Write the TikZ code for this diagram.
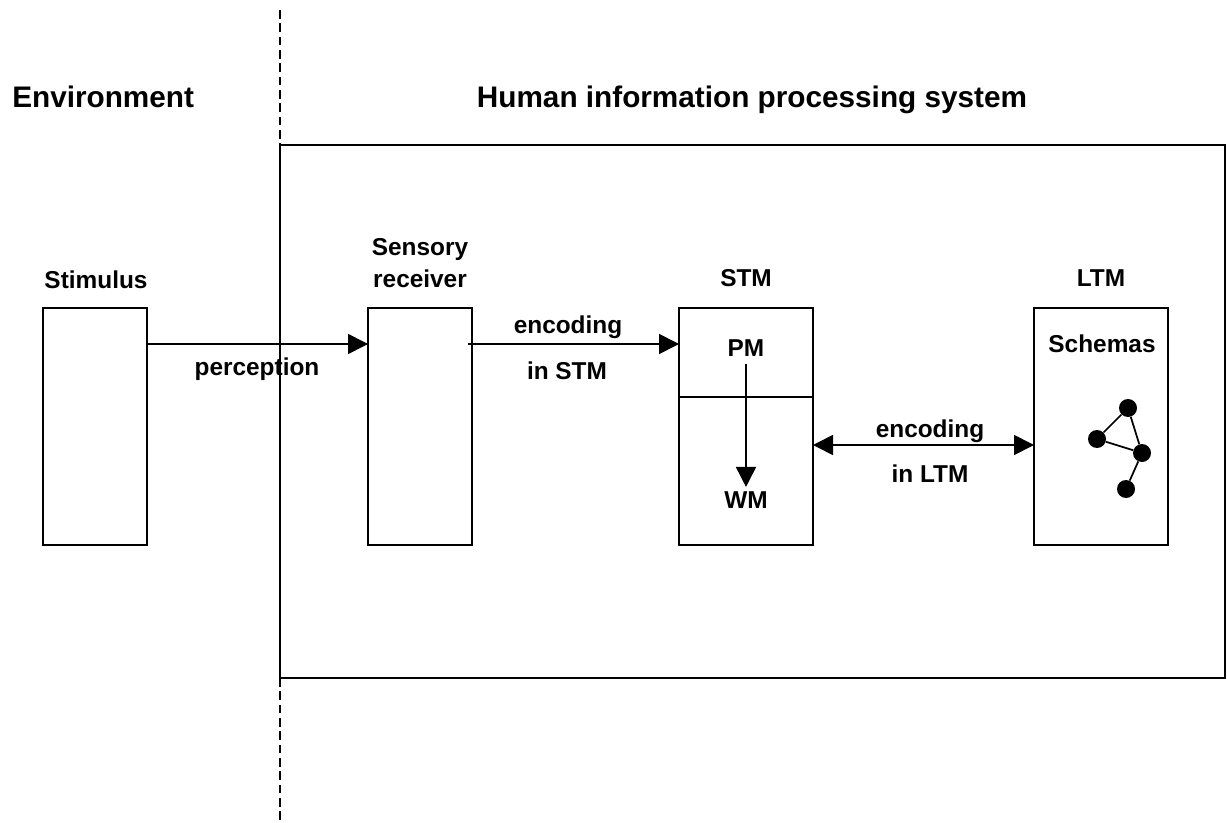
\documentclass[tikz,border=0pt]{standalone}
\usepackage{fontspec}
\setmainfont{Liberation Sans}
\usetikzlibrary{arrows.meta,calc}
\begin{document}
\begin{tikzpicture}[x=0.75pt,y=-0.75pt,
  box/.style={draw,line width=1.3pt,inner sep=0pt,outer sep=0pt,minimum height=177.75pt},
  lbl/.style={font=\fontsize{18.3}{24}\selectfont\bfseries,anchor=base,inner sep=3pt},
  head/.style={font=\fontsize{22.3}{26}\selectfont\bfseries,anchor=base,inner sep=0pt},
  arr/.style={line width=1.3pt,-{Triangle[length=15pt,width=15pt]}},
  darr/.style={line width=1.3pt,{Triangle[length=15pt,width=15pt]}-{Triangle[length=15pt,width=15pt]}},
  dot/.style={circle,fill,inner sep=0pt,minimum size=13.5pt},
  bound/.style={line width=1.1pt,dash pattern=on 6.5pt off 3.5pt}]
\useasboundingbox (0,0) rectangle (1227,823);

% system rectangle
\node[draw,line width=1.3pt,inner sep=0pt,outer sep=0pt,minimum width=708.75pt,minimum height=399.75pt] (hips) at (752.5,411.5) {};
\coordinate (dtop) at (280,10);
\coordinate (dbot) at (280,823);
\draw[bound] (dtop) -- (hips.north west);
\draw[bound] (hips.south west) -- (dbot);

% headings
\node[head,anchor=base west] (env) at (12,108) {Environment};
\node[head] (hipst) at (752,108) {Human information processing system};

% boxes
\node[box,minimum width=78pt] (stim) at (95,426.5) {};
\node[box,minimum width=78pt] (sens) at (420,426.5) {};
\node[box,minimum width=100.5pt] (stm) at (746,426.5) {};
\node[box,minimum width=100.5pt] (ltm) at (1101,426.5) {};
\draw[line width=1.3pt] (stm.west |- 0,397) -- (stm.east |- 0,397);

% box titles
\node[lbl] (stimt) at (96,289) {Stimulus};
\node[lbl,align=center] (senst) at (420,288) {Sensory\\receiver};
\node[lbl] (stmt) at (746,287) {STM};
\node[lbl] (ltmt) at (1101,287) {LTM};

% inner labels
\node[lbl] (pm) at (746,356) {PM};
\node[lbl] (wm) at (746,508) {WM};
\node[lbl] (schemas) at (1102,353) {Schemas};

% connectors
\draw[arr] ($(stim.north east)+(0,36)$) -- ($(sens.north west)+(0,36)$);
\node[lbl] (perc) at (257,375) {perception};
\draw[arr] ($(sens.north east)+(-4,36)$) -- ($(stm.north west)+(0,36)$);
\node[lbl] (enc1) at (568,334) {encoding};
\node[lbl] (enc1b) at (567,379) {in STM};
\draw[arr,shorten <=3pt] (pm.south) -- (wm.north);
\draw[darr] ($(stm.north east)+(0,137)$) -- ($(ltm.north west)+(0,137)$);
\node[lbl] (enc2) at (930,437) {encoding};
\node[lbl] (enc2b) at (930,482) {in LTM};

% schema graph
\node[dot] (g1) at (1128,408) {};
\node[dot] (g2) at (1097,439) {};
\node[dot] (g3) at (1142,453) {};
\node[dot] (g4) at (1126,489) {};
\draw[line width=1.3pt] (g1) -- (g2) -- (g3) -- (g1) (g3) -- (g4);
\end{tikzpicture}
\end{document}
